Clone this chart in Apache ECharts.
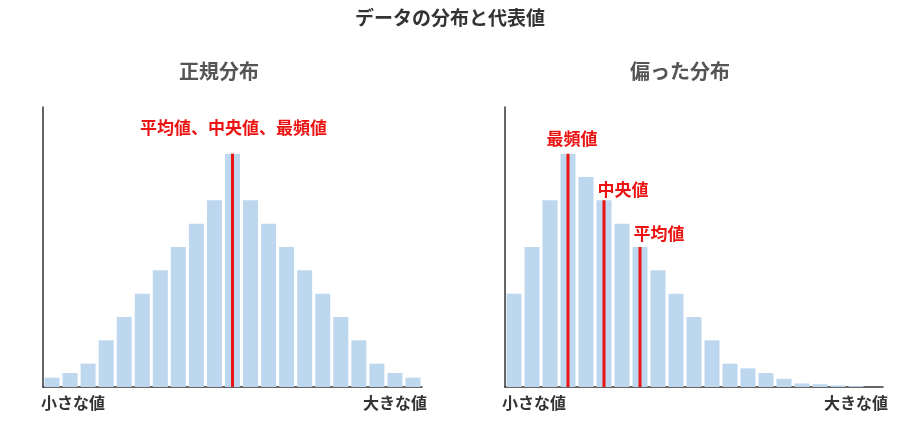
<!DOCTYPE html>
<html>
<head>
<meta charset="utf-8">
<title>データの分布と代表値</title>
<script src="https://cdn.jsdelivr.net/npm/echarts@6/dist/echarts.min.js"></script>
<style>
  html, body { margin: 0; padding: 0; background: #fff; }
  #main { width: 900px; height: 423px; }
</style>
</head>
<body>
<div id="main"></div>
<script type="text/javascript">
// 階級（21区間）
var bins = ['1','2','3','4','5','6','7','8','9','10','11','12','13','14','15','16','17','18','19','20','21'];
// 正規分布の度数
var normalValues = [4, 6, 10, 20, 30, 40, 50, 60, 70, 80, 100, 80, 70, 60, 50, 40, 30, 20, 10, 6, 4];
// 偏った分布の度数
var skewValues = [40, 60, 80, 100, 90, 80, 70, 60, 50, 40, 30, 20, 10, 8, 6, 3.5, 1.5, 1.2, 0.7, 0.4, 0];
// 代表値の位置（階級名）
var normalCenter = '11';
var skewMode = '4', skewMedian = '6', skewMean = '8';

var FONT = '"Noto Sans CJK JP", "Noto Sans", sans-serif';
var RED = '#ec1313';
var BAR = '#bdd7ee';

var myChart = echarts.init(document.getElementById('main'));

function valueOf(values, name) {
  return values[bins.indexOf(name)];
}

// 代表値の縦線（0から棒の高さまで）
function markerLine(gridIdx, values, name, label, offset) {
  return {
    type: 'line', xAxisIndex: gridIdx, yAxisIndex: gridIdx,
    silent: true, z: 5,
    showSymbol: false, symbol: 'none',
    lineStyle: { color: RED, width: 3, opacity: 1 },
    data: [[name, 0], [name, valueOf(values, name)]],
    markPoint: {
      silent: true,
      data: [{
        coord: [name, valueOf(values, name)],
        symbolSize: 0,
        label: {
          show: true, position: 'inside', offset: offset, formatter: label,
          color: RED, fontSize: 17, fontWeight: 'bold', fontFamily: FONT
        }
      }]
    }
  };
}

var axisLineStyle = { show: true, lineStyle: { color: '#333', width: 1.5 } };

var option = {
  animation: false,
  title: [
    { text: 'データの分布と代表値', left: 450, top: 8, textAlign: 'center', padding: 0,
      textStyle: { fontSize: 19, fontWeight: 'bold', color: '#333', fontFamily: FONT } },
    { text: '正規分布', left: 219, top: 61, textAlign: 'center', padding: 0,
      textStyle: { fontSize: 20, fontWeight: 'bold', color: '#555', fontFamily: FONT } },
    { text: '偏った分布', left: 680, top: 61, textAlign: 'center', padding: 0,
      textStyle: { fontSize: 20, fontWeight: 'bold', color: '#555', fontFamily: FONT } }
  ],
  grid: [
    { left: 43, right: 478, top: 107, bottom: 36 },
    { left: 505, right: 17, top: 107, bottom: 36 }
  ],
  xAxis: [
    { type: 'category', gridIndex: 0, data: bins, boundaryGap: true,
      axisLine: axisLineStyle, axisTick: { show: false }, axisLabel: { show: false } },
    { type: 'category', gridIndex: 1, data: bins, boundaryGap: true,
      axisLine: axisLineStyle, axisTick: { show: false }, axisLabel: { show: false } }
  ],
  yAxis: [
    { type: 'value', gridIndex: 0, min: 0, max: 120,
      axisLine: axisLineStyle, axisTick: { show: false }, axisLabel: { show: false }, splitLine: { show: false } },
    { type: 'value', gridIndex: 1, min: 0, max: 120,
      axisLine: axisLineStyle, axisTick: { show: false }, axisLabel: { show: false }, splitLine: { show: false } }
  ],
  series: [
    {
      name: '正規分布', type: 'bar', xAxisIndex: 0, yAxisIndex: 0,
      data: normalValues, barWidth: 15, itemStyle: { color: BAR }
    },
    {
      name: '偏った分布', type: 'bar', xAxisIndex: 1, yAxisIndex: 1,
      data: skewValues, barWidth: 15, itemStyle: { color: BAR }
    },
    markerLine(0, normalValues, normalCenter, '平均値、中央値、最頻値', [1, -26]),
    markerLine(1, skewValues, skewMode, '最頻値', [4, -15]),
    markerLine(1, skewValues, skewMedian, '中央値', [19, -11]),
    markerLine(1, skewValues, skewMean, '平均値', [19, -13])
  ],
  graphic: [
    { type: 'text', left: 41, top: 395,
      style: { text: '小さな値', fill: '#333', font: 'bold 16px ' + FONT } },
    { type: 'text', right: 900 - 427, top: 395,
      style: { text: '大きな値', fill: '#333', font: 'bold 16px ' + FONT } },
    { type: 'text', left: 502, top: 395,
      style: { text: '小さな値', fill: '#333', font: 'bold 16px ' + FONT } },
    { type: 'text', right: 900 - 888, top: 395,
      style: { text: '大きな値', fill: '#333', font: 'bold 16px ' + FONT } }
  ]
};

myChart.setOption(option);
</script>
</body>
</html>
